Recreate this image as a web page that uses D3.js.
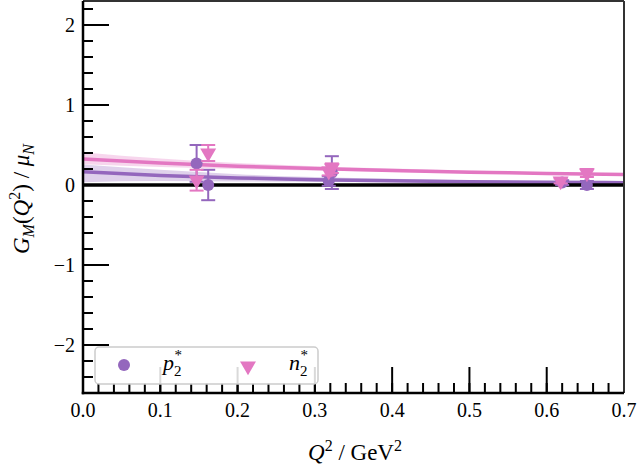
<!DOCTYPE html>
<html>
<head>
<meta charset="utf-8">
<script src="https://cdn.jsdelivr.net/npm/d3@7"></script>
<style>
  html, body { margin: 0; padding: 0; background: #fff; }
  svg { display: block; }
  text { font-family: "Liberation Serif", "DejaVu Serif", serif; fill: #000; }
</style>
</head>
<body>
<svg id="chart" width="638" height="474"></svg>
<script>
// Fit curves (central value and uncertainty band) sampled in Q^2
const curveQ2 = [0, 0.1, 0.2, 0.3, 0.4, 0.5, 0.6, 0.7];
const pFit    = [0.165, 0.12, 0.088, 0.067, 0.052, 0.042, 0.035, 0.029];
const pFitLo  = [0.035, 0.05, 0.045, 0.04, 0.033, 0.028, 0.024, 0.02];
const pFitHi  = [0.255, 0.19, 0.135, 0.1, 0.077, 0.06, 0.049, 0.04];
const nFit    = [0.325, 0.275, 0.235, 0.205, 0.18, 0.16, 0.145, 0.13];
const nFitLo  = [0.26, 0.225, 0.2, 0.18, 0.162, 0.147, 0.133, 0.12];
const nFitHi  = [0.41, 0.33, 0.275, 0.235, 0.205, 0.18, 0.16, 0.145];

// Lattice points: Q^2, G_M, uncertainty
const pQ2  = [0.147, 0.162, 0.318, 0.322, 0.62, 0.652];
const pVal = [0.27, 0.0, 0.05, 0.155, 0.03, 0.0];
const pErr = [0.23, 0.19, 0.06, 0.205, 0.03, 0.05];
const nQ2  = [0.147, 0.162, 0.318, 0.322, 0.618, 0.652];
const nVal = [0.06, 0.40, 0.17, 0.21, 0.05, 0.15];
const nErr = [0.13, 0.10, 0.05, 0.06, 0.03, 0.05];

const xTicks = [0, 0.1, 0.2, 0.3, 0.4, 0.5, 0.6, 0.7];
const yTicks = [-2, -1, 0, 1, 2];

const purple = "#9467bd", pink = "#e377c2";

const svg = d3.select("#chart");
const L = 83, R = 624, T = 1, B = 393;
const x = d3.scaleLinear().domain([0, 0.7]).range([L, R]);
const y = d3.scaleLinear().domain([-2.6, 2.3]).range([B, T]);

svg.append("defs").append("clipPath").attr("id", "plotClip")
  .append("rect").attr("x", L).attr("y", T).attr("width", R - L).attr("height", B - T);
const plot = svg.append("g").attr("clip-path", "url(#plotClip)");

// Uncertainty bands and central fit lines
function drawFit(mid, lo, hi, color) {
  const idx = d3.range(curveQ2.length);
  plot.append("path")
    .attr("d", d3.area().curve(d3.curveMonotoneX)
      .x(i => x(curveQ2[i])).y0(i => y(lo[i])).y1(i => y(hi[i]))(idx))
    .attr("fill", color).attr("fill-opacity", 0.3);
  plot.append("path")
    .attr("d", d3.line().curve(d3.curveMonotoneX)
      .x(i => x(curveQ2[i])).y(i => y(mid[i]))(idx))
    .attr("fill", "none").attr("stroke", color).attr("stroke-width", 3.5);
}
drawFit(pFit, pFitLo, pFitHi, purple);
drawFit(nFit, nFitLo, nFitHi, pink);

// Zero reference line
plot.append("line").attr("x1", L).attr("x2", R).attr("y1", y(0)).attr("y2", y(0))
  .attr("stroke", "#000").attr("stroke-width", 3.5);

// Error bars with caps, then markers
function drawPoints(qs, vals, errs, color, shape) {
  const g = plot.append("g");
  qs.forEach((q, i) => {
    const cx = x(q), top = y(vals[i] + errs[i]), bot = y(vals[i] - errs[i]);
    g.append("line").attr("x1", cx).attr("x2", cx).attr("y1", top).attr("y2", bot)
      .attr("stroke", color).attr("stroke-width", 2);
    [top, bot].forEach(cy => g.append("line")
      .attr("x1", cx - 7).attr("x2", cx + 7).attr("y1", cy).attr("y2", cy)
      .attr("stroke", color).attr("stroke-width", 2));
  });
  qs.forEach((q, i) => {
    const cx = x(q), cy = y(vals[i]);
    if (shape === "circle") {
      g.append("circle").attr("cx", cx).attr("cy", cy).attr("r", 6).attr("fill", color);
    } else {
      g.append("path").attr("d", d3.symbol().type(d3.symbolTriangle).size(110)())
        .attr("transform", `translate(${cx},${cy}) rotate(180)`).attr("fill", color);
    }
  });
}
drawPoints(pQ2, pVal, pErr, purple, "circle");
drawPoints(nQ2, nVal, nErr, pink, "triangle");

// Axes: inward ticks on left and bottom
const axes = svg.append("g");
const xMinor = d3.range(0, 0.7001, 0.02);
const yMinor = d3.range(-2.6, 2.3001, 0.2);
xMinor.forEach(v => axes.append("line").attr("x1", x(v)).attr("x2", x(v))
  .attr("y1", B).attr("y2", B - 10).attr("stroke", "#000").attr("stroke-width", 2));
xTicks.forEach(v => axes.append("line").attr("x1", x(v)).attr("x2", x(v))
  .attr("y1", B).attr("y2", B - 26).attr("stroke", "#000").attr("stroke-width", 2));
yMinor.forEach(v => axes.append("line").attr("x1", L).attr("x2", L + 10)
  .attr("y1", y(v)).attr("y2", y(v)).attr("stroke", "#000").attr("stroke-width", 2));
yTicks.forEach(v => axes.append("line").attr("x1", L).attr("x2", L + 26)
  .attr("y1", y(v)).attr("y2", y(v)).attr("stroke", "#000").attr("stroke-width", 2));

// Spines
axes.append("line").attr("x1", L).attr("x2", R).attr("y1", T).attr("y2", T)
  .attr("stroke", "#333").attr("stroke-width", 2);
axes.append("line").attr("x1", R).attr("x2", R).attr("y1", T).attr("y2", B)
  .attr("stroke", "#333").attr("stroke-width", 2);
axes.append("line").attr("x1", L).attr("x2", L).attr("y1", T).attr("y2", B + 1.25)
  .attr("stroke", "#000").attr("stroke-width", 2.5);
axes.append("line").attr("x1", L - 1.25).attr("x2", R).attr("y1", B).attr("y2", B)
  .attr("stroke", "#000").attr("stroke-width", 2.5);

// Tick labels
const fmtMinus = v => (v < 0 ? "\u2212" + Math.abs(v) : String(v));
xTicks.forEach(v => axes.append("text").attr("x", x(v)).attr("y", 417)
  .attr("text-anchor", "middle").attr("font-size", 20).text(v.toFixed(1)));
yTicks.forEach(v => axes.append("text").attr("x", 75).attr("y", y(v) + 7)
  .attr("text-anchor", "end").attr("font-size", 20).text(fmtMinus(v)));

// Axis titles
const xt = svg.append("text").attr("x", 355).attr("y", 460).attr("text-anchor", "middle")
  .attr("font-size", 23);
xt.append("tspan").attr("font-style", "italic").text("Q");
xt.append("tspan").attr("font-size", 16).attr("dy", -9).text("2");
xt.append("tspan").attr("dy", 9).text(" / GeV");
xt.append("tspan").attr("font-size", 16).attr("dy", -9).text("2");

const yt = svg.append("text").attr("transform", "translate(29,199) rotate(-90)")
  .attr("text-anchor", "middle").attr("font-size", 23);
yt.append("tspan").attr("font-style", "italic").text("G");
yt.append("tspan").attr("font-style", "italic").attr("font-size", 16).attr("dy", 5).text("M");
yt.append("tspan").attr("dy", -5).text("(");
yt.append("tspan").attr("font-style", "italic").text("Q");
yt.append("tspan").attr("font-size", 16).attr("dy", -9).text("2");
yt.append("tspan").attr("dy", 9).text(") / ");
yt.append("tspan").attr("font-style", "italic").text("\u03bc");
yt.append("tspan").attr("font-style", "italic").attr("font-size", 16).attr("dy", 5).text("N");

// Legend
const leg = svg.append("g");
leg.append("rect").attr("x", 95).attr("y", 347).attr("width", 223).attr("height", 37)
  .attr("rx", 4).attr("fill", "#fff").attr("fill-opacity", 0.85)
  .attr("stroke", "#ccc").attr("stroke-width", 1.5);
leg.append("circle").attr("cx", 124).attr("cy", 365).attr("r", 6).attr("fill", purple);
leg.append("path").attr("d", d3.symbol().type(d3.symbolTriangle).size(110)())
  .attr("transform", "translate(248,366) rotate(180)").attr("fill", pink);
function legendLabel(xp, base) {
  const t = leg.append("text").attr("x", xp).attr("y", 370).attr("font-size", 22);
  t.append("tspan").attr("font-style", "italic").text(base);
  t.append("tspan").attr("font-size", 15).attr("dy", 6).text("2");
  t.append("tspan").attr("font-size", 15).attr("dx", -7).attr("dy", -16).text("*");
}
legendLabel(163, "p");
legendLabel(289, "n");
</script>
</body>
</html>
